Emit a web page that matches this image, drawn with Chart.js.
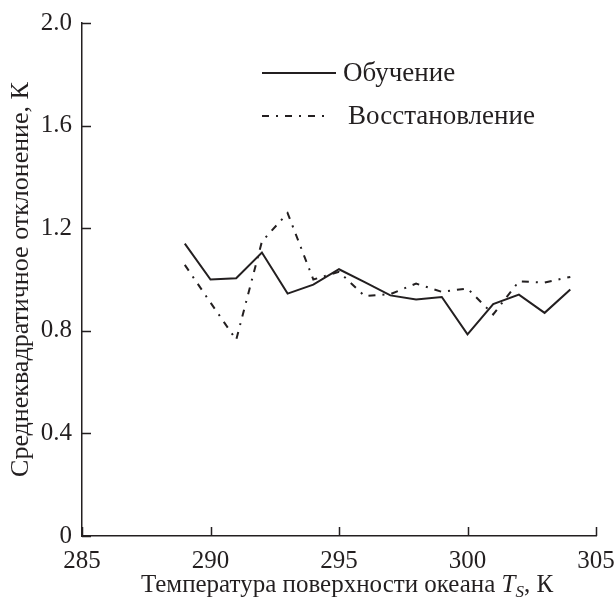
<!DOCTYPE html>
<html>
<head>
<meta charset="utf-8">
<script src="https://cdn.jsdelivr.net/npm/chart.js@4.4.1/dist/chart.umd.min.js"></script>
<style>
  html, body { margin: 0; padding: 0; background: #fff; }
  #wrap { width: 615px; height: 605px; }
</style>
</head>
<body>
<div id="wrap"><canvas id="grafico"></canvas></div>
<script>
// Температура поверхности океана, К
const temperatura = [289, 290, 291, 292, 293, 294, 295, 296, 297, 298, 299, 300, 301, 302, 303, 304];
// СКО, К
const obuchenie     = [1.14, 1.00, 1.005, 1.105, 0.945, 0.98, 1.04, 0.99, 0.938, 0.922, 0.932, 0.786, 0.904, 0.941, 0.87, 0.961];
const vosstanovlenie = [1.057, 0.91, 0.765, 1.148, 1.259, 1.0, 1.03, 0.935, 0.943, 0.984, 0.952, 0.965, 0.864, 0.993, 0.988, 1.01];

const xTicks = [285, 290, 295, 300, 305];
const yTicks = [0, 0.4, 0.8, 1.2, 1.6, 2.0];

const seriesNames = ['Обучение', 'Восстановление'];
const titleY = 'Среднеквадратичное отклонение, К';

const INK = '#231f20';
const FONT = '"Liberation Serif", "Times New Roman", serif';
const DASHDOT = [7, 7, 2, 7];

// засечки внутрь области графика
const tickMarks = {
    id: 'tickMarks',
    afterDraw(chart) {
        const { ctx, chartArea, scales } = chart;
        ctx.save();
        ctx.strokeStyle = INK;
        ctx.lineWidth = 1.5;
        ctx.beginPath();
        yTicks.forEach(v => {
            const y = Math.round(scales.y.getPixelForValue(v)) + 0.5;
            ctx.moveTo(chartArea.left, y);
            ctx.lineTo(chartArea.left + 9, y);
        });
        xTicks.forEach(v => {
            const x = Math.round(scales.x.getPixelForValue(v)) + 0.5;
            ctx.moveTo(x, chartArea.bottom);
            ctx.lineTo(x, chartArea.bottom - 9);
        });
        ctx.stroke();
        ctx.restore();
    }
};

// подпись оси X с курсивом и индексом
const xTitle = {
    id: 'xTitle',
    afterDraw(chart) {
        const { ctx, scales } = chart;
        const parts = [
            { t: 'Температура поверхности океана ', f: '25px ' + FONT, dy: 0 },
            { t: 'T', f: 'italic 25px ' + FONT, dy: 0 },
            { t: 'S', f: 'italic 17px ' + FONT, dy: 5 },
            { t: ', К', f: '25px ' + FONT, dy: 0 }
        ];
        ctx.save();
        ctx.fillStyle = INK;
        ctx.textBaseline = 'alphabetic';
        let w = 0;
        parts.forEach(p => { ctx.font = p.f; p.w = ctx.measureText(p.t).width; w += p.w; });
        let x = (scales.x.left + scales.x.right) / 2 - w / 2 + 8;
        const base = scales.x.bottom - 13;
        parts.forEach(p => {
            ctx.font = p.f;
            ctx.fillText(p.t, x, base + p.dy);
            x += p.w;
        });
        ctx.restore();
    }
};

// легенда
const legendBox = {
    id: 'legendBox',
    afterDraw(chart) {
        const { ctx, chartArea } = chart;
        const x0 = chartArea.left + 180;
        const rows = [
            { y: chartArea.top + 50, dash: [], len: 74, gap: 7 },
            { y: chartArea.top + 93, dash: DASHDOT, len: 66, gap: 20 }
        ];
        ctx.save();
        ctx.strokeStyle = INK;
        ctx.fillStyle = INK;
        ctx.lineWidth = 2;
        ctx.font = '27px ' + FONT;
        ctx.textBaseline = 'middle';
        rows.forEach((r, i) => {
            ctx.setLineDash(r.dash);
            ctx.beginPath();
            ctx.moveTo(x0, r.y);
            ctx.lineTo(x0 + r.len, r.y);
            ctx.stroke();
            ctx.fillText(seriesNames[i], x0 + r.len + r.gap, r.y + 1);
        });
        ctx.restore();
    }
};

const toPoints = ys => temperatura.map((t, i) => ({ x: t, y: ys[i] }));

new Chart(document.getElementById('grafico'), {
    type: 'line',
    data: {
        datasets: [
            {
                label: seriesNames[0],
                data: toPoints(obuchenie),
                borderColor: INK,
                borderWidth: 2,
                pointRadius: 0,
                tension: 0,
                fill: false
            },
            {
                label: seriesNames[1],
                data: toPoints(vosstanovlenie),
                borderColor: INK,
                borderWidth: 2,
                borderDash: DASHDOT,
                pointRadius: 0,
                tension: 0,
                fill: false
            }
        ]
    },
    options: {
        responsive: true,
        maintainAspectRatio: false,
        animation: false,
        layout: { padding: { top: 23, right: 19, left: 0, bottom: 0 } },
        plugins: {
            legend: { display: false },
            tooltip: { enabled: false }
        },
        scales: {
            x: {
                type: 'linear',
                min: 285,
                max: 305,
                afterFit: s => { s.height = 69; s.paddingLeft = 0; s.paddingRight = 0; },
                afterBuildTicks: s => { s.ticks = xTicks.map(v => ({ value: v })); },
                grid: { display: false, drawTicks: false },
                border: { display: true, color: INK, width: 1.5 },
                ticks: {
                    color: INK,
                    padding: 10,
                    maxRotation: 0,
                    font: { family: FONT, size: 25 },
                    callback: v => String(v)
                }
            },
            y: {
                min: 0,
                max: 2,
                afterFit: s => { s.width = 82; s.paddingTop = 0; s.paddingBottom = 0; },
                afterBuildTicks: s => { s.ticks = yTicks.map(v => ({ value: v })); },
                grid: { display: false, drawTicks: false },
                border: { display: true, color: INK, width: 1.5 },
                ticks: {
                    color: INK,
                    padding: 10,
                    font: { family: FONT, size: 25 },
                    callback: v => (v === 0 ? '0' : v.toFixed(1))
                },
                title: {
                    display: true,
                    text: titleY,
                    color: INK,
                    padding: { top: 6, bottom: 0 },
                    font: { family: FONT, size: 26 }
                }
            }
        }
    },
    plugins: [tickMarks, xTitle, legendBox]
});
</script>
</body>
</html>
